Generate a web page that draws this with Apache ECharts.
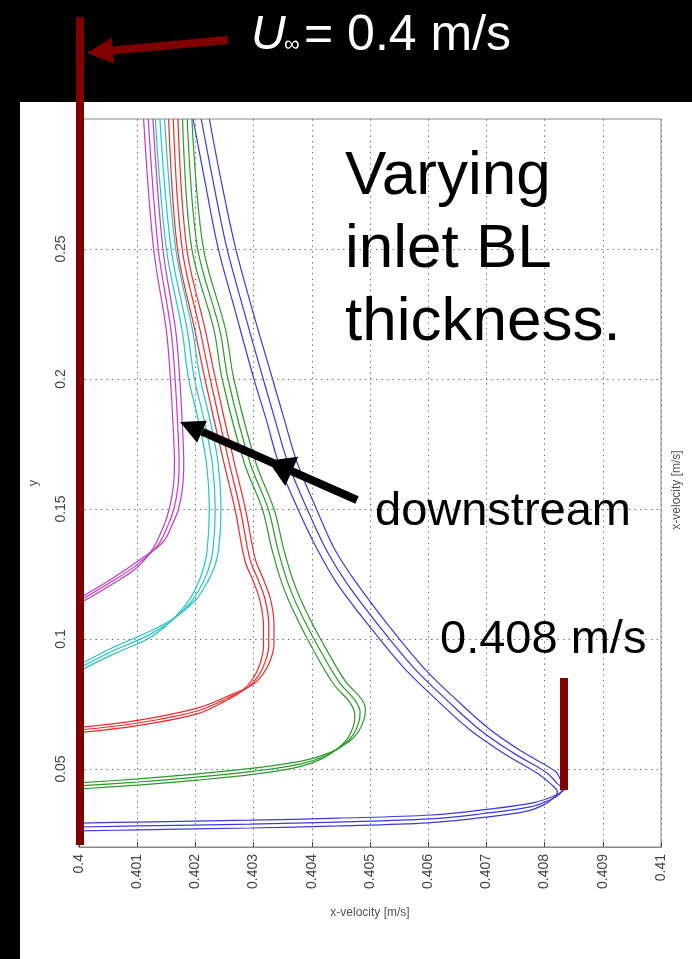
<!DOCTYPE html>
<html><head><meta charset="utf-8">
<script src="https://cdn.jsdelivr.net/npm/echarts@6/dist/echarts.min.js"></script>
<style>html,body{margin:0;padding:0;background:#000}#c{width:692px;height:959px}</style>
</head><body><div id="c"></div>
<script>
// ---- tick values / labels ----
const xTickValues = [0.4,0.401,0.402,0.403,0.404,0.405,0.406,0.407,0.408,0.409,0.41];
const xTickLabels = ['0.4','0.401','0.402','0.403','0.404','0.405','0.406','0.407','0.408','0.409','0.41'];
const yTickValues = [0.05,0.1,0.15,0.2,0.25];
const yTickLabels = ['0.05','0.1','0.15','0.2','0.25'];

// ---- profiles: [x-velocity, y] ----
const blueA = [[0.40000,0.0262],[0.40101,0.0266],[0.40294,0.0273],[0.40445,0.0281],[0.40600,0.0293],[0.40684,0.0311],[0.40768,0.0337],[0.40800,0.0364],[0.40816,0.0390],[0.40822,0.0412],[0.40812,0.0440],[0.40790,0.0480],[0.40730,0.0560],[0.40672,0.0650],[0.40615,0.0765],[0.40557,0.0892],[0.40500,0.1046],[0.40443,0.1215],[0.40410,0.1342],[0.40376,0.1500],[0.40343,0.1677],[0.40322,0.1842],[0.40300,0.2004],[0.40268,0.2265],[0.40239,0.2504],[0.40216,0.2765],[0.40196,0.3000]];
const blueB = [[0.40000,0.0277],[0.40101,0.0281],[0.40294,0.0288],[0.40445,0.0296],[0.40603,0.0308],[0.40689,0.0327],[0.40775,0.0354],[0.40809,0.0381],[0.40826,0.0404],[0.40830,0.0423],[0.40821,0.0446],[0.40804,0.0485],[0.40746,0.0562],[0.40689,0.0650],[0.40632,0.0765],[0.40574,0.0892],[0.40517,0.1046],[0.40460,0.1215],[0.40425,0.1342],[0.40392,0.1500],[0.40359,0.1677],[0.40337,0.1842],[0.40316,0.2004],[0.40283,0.2265],[0.40254,0.2504],[0.40230,0.2765],[0.40210,0.3000]];
const blueC = [[0.40000,0.0292],[0.40101,0.0296],[0.40294,0.0303],[0.40445,0.0311],[0.40606,0.0323],[0.40694,0.0343],[0.40782,0.0371],[0.40818,0.0398],[0.40834,0.0420],[0.40836,0.0438],[0.40828,0.0458],[0.40818,0.0492],[0.40762,0.0566],[0.40706,0.0652],[0.40649,0.0765],[0.40591,0.0892],[0.40534,0.1046],[0.40477,0.1215],[0.40440,0.1342],[0.40408,0.1500],[0.40375,0.1677],[0.40353,0.1842],[0.40332,0.2004],[0.40298,0.2265],[0.40269,0.2504],[0.40244,0.2765],[0.40224,0.3000]];

const greenA = [[0.40000,0.0423],[0.40101,0.0438],[0.40203,0.0457],[0.40302,0.0480],[0.40376,0.0507],[0.40416,0.0538],[0.40445,0.0580],[0.40462,0.0619],[0.40472,0.0669],[0.40474,0.0707],[0.40465,0.0757],[0.40438,0.0825],[0.40404,0.0952],[0.40370,0.1100],[0.40349,0.1212],[0.40332,0.1340],[0.40315,0.1500],[0.40284,0.1677],[0.40246,0.2000],[0.40232,0.2188],[0.40193,0.2512],[0.40178,0.3000]];
const greenB = [[0.40000,0.0435],[0.40101,0.0450],[0.40203,0.0469],[0.40302,0.0492],[0.40380,0.0519],[0.40423,0.0550],[0.40454,0.0592],[0.40471,0.0631],[0.40481,0.0681],[0.40483,0.0719],[0.40474,0.0765],[0.40448,0.0831],[0.40414,0.0958],[0.40380,0.1104],[0.40359,0.1215],[0.40342,0.1342],[0.40325,0.1500],[0.40294,0.1677],[0.40256,0.2000],[0.40242,0.2188],[0.40203,0.2512],[0.40186,0.3000]];
const greenC = [[0.40000,0.0447],[0.40101,0.0462],[0.40203,0.0481],[0.40302,0.0504],[0.40384,0.0531],[0.40430,0.0562],[0.40463,0.0604],[0.40480,0.0643],[0.40490,0.0693],[0.40492,0.0731],[0.40484,0.0773],[0.40458,0.0837],[0.40424,0.0964],[0.40390,0.1108],[0.40369,0.1218],[0.40352,0.1344],[0.40335,0.1500],[0.40304,0.1677],[0.40266,0.2000],[0.40252,0.2188],[0.40213,0.2512],[0.40194,0.3000]];

const redA = [[0.40000,0.0640],[0.40101,0.0667],[0.40203,0.0712],[0.40250,0.0760],[0.40280,0.0800],[0.40299,0.0848],[0.40311,0.0905],[0.40317,0.0972],[0.40317,0.1050],[0.40311,0.1147],[0.40299,0.1225],[0.40285,0.1302],[0.40268,0.1500],[0.40249,0.1677],[0.40216,0.2004],[0.40199,0.2188],[0.40169,0.2504],[0.40154,0.3000]];
const redB = [[0.40000,0.0650],[0.40101,0.0677],[0.40203,0.0723],[0.40256,0.0773],[0.40289,0.0812],[0.40308,0.0858],[0.40320,0.0912],[0.40326,0.0977],[0.40326,0.1054],[0.40320,0.1150],[0.40308,0.1227],[0.40294,0.1304],[0.40277,0.1500],[0.40258,0.1677],[0.40225,0.2004],[0.40208,0.2188],[0.40177,0.2504],[0.40162,0.3000]];
const redC = [[0.40000,0.0660],[0.40101,0.0687],[0.40203,0.0734],[0.40262,0.0786],[0.40298,0.0824],[0.40317,0.0868],[0.40329,0.0919],[0.40335,0.0982],[0.40335,0.1058],[0.40329,0.1153],[0.40317,0.1229],[0.40303,0.1306],[0.40286,0.1500],[0.40267,0.1677],[0.40234,0.2004],[0.40217,0.2188],[0.40185,0.2504],[0.40170,0.3000]];

const cyanA = [[0.40000,0.0876],[0.40058,0.0941],[0.40117,0.0999],[0.40150,0.1052],[0.40182,0.1127],[0.40199,0.1187],[0.40212,0.1258],[0.40220,0.1338],[0.40224,0.1500],[0.40219,0.1677],[0.40205,0.1842],[0.40188,0.2004],[0.40177,0.2188],[0.40150,0.2504],[0.40131,0.3000]];
const cyanB = [[0.40000,0.0888],[0.40058,0.0954],[0.40117,0.1012],[0.40156,0.1065],[0.40191,0.1138],[0.40208,0.1196],[0.40222,0.1265],[0.40230,0.1342],[0.40234,0.1500],[0.40229,0.1677],[0.40215,0.1842],[0.40198,0.2004],[0.40186,0.2188],[0.40158,0.2504],[0.40139,0.3000]];
const cyanC = [[0.40000,0.0900],[0.40058,0.0967],[0.40117,0.1025],[0.40162,0.1078],[0.40200,0.1149],[0.40217,0.1205],[0.40232,0.1272],[0.40240,0.1346],[0.40244,0.1500],[0.40239,0.1677],[0.40225,0.1842],[0.40208,0.2004],[0.40195,0.2188],[0.40166,0.2504],[0.40147,0.3000]];

const magentaA = [[0.40000,0.1136],[0.40055,0.1208],[0.40101,0.1277],[0.40128,0.1352],[0.40145,0.1432],[0.40155,0.1500],[0.40162,0.1585],[0.40164,0.1677],[0.40162,0.1804],[0.40157,0.2004],[0.40150,0.2188],[0.40128,0.2504],[0.40111,0.3000]];
const magentaB = [[0.40000,0.1146],[0.40055,0.1219],[0.40101,0.1288],[0.40136,0.1362],[0.40153,0.1438],[0.40163,0.1500],[0.40170,0.1585],[0.40172,0.1677],[0.40170,0.1804],[0.40165,0.2004],[0.40158,0.2188],[0.40136,0.2504],[0.40119,0.3000]];
const magentaC = [[0.40000,0.1156],[0.40055,0.1230],[0.40101,0.1299],[0.40144,0.1372],[0.40161,0.1444],[0.40171,0.1500],[0.40178,0.1585],[0.40180,0.1677],[0.40178,0.1804],[0.40173,0.2004],[0.40166,0.2188],[0.40144,0.2504],[0.40127,0.3000]];

const groups = [
  {color:'#3a3ae0', lines:[blueA,blueB,blueC]},
  {color:'#2a9a2a', lines:[greenA,greenB,greenC]},
  {color:'#f02a2a', lines:[redA,redB,redC]},
  {color:'#22c4c4', lines:[cyanA,cyanB,cyanC]},
  {color:'#c43ac4', lines:[magentaA,magentaB,magentaC]}
];

const chart = echarts.init(document.getElementById('c'), null, {renderer:'canvas'});
const FONT = '"Liberation Sans", Arial, sans-serif';
const series = [];
groups.forEach(g => g.lines.forEach(d => series.push({
  type:'line', data:d, showSymbol:false, smooth:0.35, silent:true,
  lineStyle:{color:g.color, width:1.2}, z:3
})));
// horizontal dotted grid lines at the y tick values
series.push({
  type:'line', data:[], silent:true,
  markLine:{silent:true, symbol:'none', label:{show:false},
    lineStyle:{color:'#777', type:[1.5,4], width:1},
    data: yTickValues.map(v => ({yAxis:v}))}
});

const darkRed = '#800000';
function lbl(v, vals, labs){ let i=0,b=1e9; vals.forEach((t,k)=>{const d=Math.abs(t-v); if(d<b){b=d;i=k;}}); return labs[i]; }

chart.setOption({
  backgroundColor:'#000',
  animation:false,
  grid:{left:79, right:31, top:119, bottom:112, show:true, borderColor:'#888', borderWidth:1, backgroundColor:'transparent'},
  xAxis:{type:'value', min:0.4, max:0.41, interval:0.001,
    axisLine:{show:true, lineStyle:{color:'#888'}},
    axisTick:{show:true, inside:true, length:5, lineStyle:{color:'#444'}},
    axisLabel:{rotate:90, margin:7, color:'#444', fontSize:14, fontFamily:FONT,
      formatter:(v)=>lbl(v,xTickValues,xTickLabels)},
    splitLine:{show:true, lineStyle:{color:'#777', type:[1.5,4], width:1}},
    name:'x-velocity [m/s]', nameLocation:'middle', nameGap:60,
    nameTextStyle:{color:'#555', fontSize:12, fontFamily:FONT}
  },
  yAxis:{type:'value', min:0.02, max:0.3,
    axisLine:{show:true, lineStyle:{color:'#888'}},
    axisTick:{show:true, inside:true, length:5, customValues:yTickValues, lineStyle:{color:'#444'}},
    axisLabel:{customValues:yTickValues, rotate:90, margin:11, color:'#444', fontSize:14, fontFamily:FONT,
      formatter:(v)=>lbl(v,yTickValues,yTickLabels)},
    splitLine:{show:false},
    name:'y', nameLocation:'middle', nameGap:39, nameRotate:90,
    nameTextStyle:{color:'#555', fontSize:13, fontFamily:FONT}
  },
  series: series,
  graphic:[
    {type:'rect', z:-100, shape:{x:20, y:102, width:672, height:857}, style:{fill:'#fff'}},
    // right-side rotated axis title
    {type:'text', z:50, x:677, y:490, rotation:Math.PI/2,
      style:{text:'x-velocity [m/s]', fill:'#555', font:'12px '+FONT, align:'center', verticalAlign:'middle'}},
    // U_inf reference line and arrow
    {type:'line', z:100, shape:{x1:80, y1:17, x2:80, y2:845}, style:{stroke:darkRed, lineWidth:8}},
    {type:'line', z:100, shape:{x1:228, y1:40, x2:112, y2:50.6}, style:{stroke:darkRed, lineWidth:8}},
    {type:'polygon', z:100, shape:{points:[[87,53],[114.1,63.5],[111.7,37.7]]}, style:{fill:darkRed}},
    {type:'text', z:100, x:251, y:36, style:{text:'U', fill:'#fff', font:'italic 48px '+FONT, align:'left', verticalAlign:'middle'}},
    {type:'text', z:100, x:284, y:45, style:{text:'\u221E', fill:'#fff', font:'22px '+FONT, align:'left', verticalAlign:'middle'}},
    {type:'text', z:100, x:304, y:36, style:{text:'= 0.4 m/s', fill:'#fff', font:'50px '+FONT, align:'left', verticalAlign:'middle'}},
    // title annotation
    {type:'text', z:100, x:345, y:177, style:{text:'Varying', fill:'#000', font:'62px '+FONT, align:'left', verticalAlign:'middle'}},
    {type:'text', z:100, x:345, y:250, style:{text:'inlet BL', fill:'#000', font:'62px '+FONT, align:'left', verticalAlign:'middle'}},
    {type:'text', z:100, x:345, y:323, style:{text:'thickness.', fill:'#000', font:'62px '+FONT, align:'left', verticalAlign:'middle'}},
    // downstream arrow
    {type:'line', z:100, shape:{x1:357, y1:500, x2:202, y2:431.7}, style:{stroke:'#000', lineWidth:8}},
    {type:'polygon', z:100, shape:{points:[[180,422],[206.8,420.7],[197.1,442.7]]}, style:{fill:'#000'}},
    {type:'polygon', z:100, shape:{points:[[268,460.8],[298.2,456.7],[285.3,485.9]]}, style:{fill:'#000'}},
    {type:'text', z:100, x:375, y:512, style:{text:'downstream', fill:'#000', font:'47px '+FONT, align:'left', verticalAlign:'middle'}},
    // peak marker
    {type:'text', z:100, x:440, y:640, style:{text:'0.408 m/s', fill:'#000', font:'47px '+FONT, align:'left', verticalAlign:'middle'}},
    {type:'line', z:100, shape:{x1:564, y1:678, x2:564, y2:790}, style:{stroke:darkRed, lineWidth:8}}
  ]
});
</script></body></html>
